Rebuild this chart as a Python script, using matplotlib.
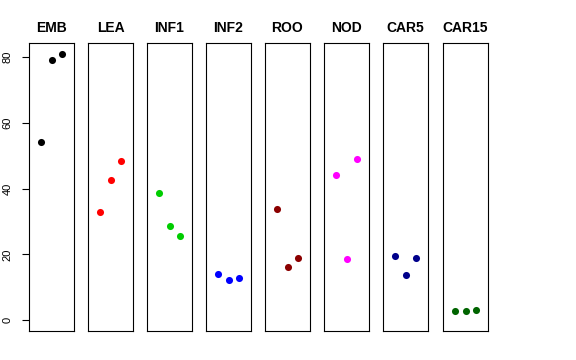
import matplotlib
matplotlib.use("Agg")
import matplotlib.pyplot as plt

plt.rcParams['font.family'] = ['Liberation Sans', 'DejaVu Sans']

groups = ["EMB", "LEA", "INF1", "INF2", "ROO", "NOD", "CAR5", "CAR15"]
colors = ["black", "red", "#00CD00", "blue", "#8B0000", "magenta", "#00008B", "#006400"]
values = [
    [54.1, 79.1, 81.0],
    [32.9, 42.6, 48.4],
    [38.6, 28.6, 25.5],
    [14.0, 12.1, 12.9],
    [33.9, 16.1, 19.0],
    [44.1, 18.7, 49.1],
    [19.4, 13.9, 18.9],
    [2.7, 2.8, 3.0],
]
reps = [1, 2, 3]
yticks = [0, 20, 40, 60, 80]

W, H = 576, 360
fig = plt.figure(figsize=(W / 100, H / 100), dpi=100)

lefts = [29, 88, 147, 206, 265, 324, 383, 443]
pw, top, bottom = 45, 43, 331

for i, (g, c, v) in enumerate(zip(groups, colors, values)):
    ax = fig.add_axes([lefts[i] / W, (H - bottom) / H, pw / W, (bottom - top) / H])
    ax.scatter(reps, v, s=26, color=c, zorder=3, linewidths=0)
    ax.set_xlim(-0.16, 4.16)
    ax.set_ylim(-3.24, 84.24)
    ax.set_xticks([])
    for sp in ax.spines.values():
        sp.set_linewidth(0.8)
        sp.set_color("black")
    ax.set_title(g, fontsize=10, fontweight="bold", pad=8)
    if i == 0:
        ax.set_yticks(yticks)
        ax.set_yticklabels([str(t) for t in yticks], rotation=90, va="center", fontsize=8)
        ax.tick_params(axis="y", length=5, width=0.8, pad=7)
    else:
        ax.set_yticks([])

fig.savefig("out.png", dpi=100)
